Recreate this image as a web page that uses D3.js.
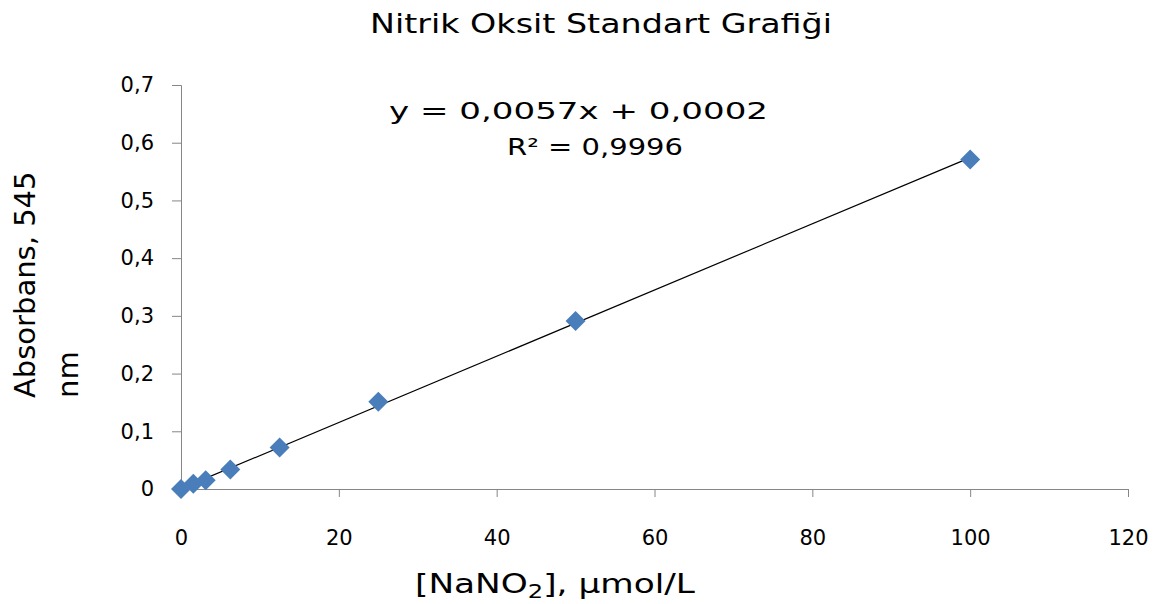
<!DOCTYPE html>
<html>
<head>
<meta charset="utf-8">
<script src="https://cdn.jsdelivr.net/npm/d3@7"></script>
<style>
  body { margin: 0; background: #fff; }
  text { font-family: "DejaVu Sans", Verdana, sans-serif; fill: #000; }
</style>
</head>
<body>
<div id="chart"></div>
<script>
// standard curve data: NaNO2 concentration (umol/L) vs absorbance at 545 nm
var concentrations = [0, 1.5625, 3.125, 6.25, 12.5, 25, 50, 100];
var absorbances = [0, 0.009, 0.015, 0.034, 0.072, 0.151, 0.291, 0.571];

var xTicks = [0, 20, 40, 60, 80, 100, 120];
var yTicks = [0, 0.1, 0.2, 0.3, 0.4, 0.5, 0.6, 0.7];

var titleText = "Nitrik Oksit Standart Grafiği";
var equationLines = ["y = 0,0057x + 0,0002", "R² = 0,9996"];
var yLabelLines = ["Absorbans, 545", "nm"];

// set the dimensions and margins of the graph
var W = 1154, H = 604;
var margin = {top: 85, right: 26, bottom: 115, left: 181},
    width = W - margin.left - margin.right,
    height = H - margin.top - margin.bottom;

var svg = d3.select("#chart")
  .append("svg")
    .attr("width", W)
    .attr("height", H);

var g = svg.append("g")
    .attr("transform", "translate(" + margin.left + "," + margin.top + ")");

var x = d3.scaleLinear().domain([0, 120]).range([0, width]);
var y = d3.scaleLinear().domain([0, 0.7]).range([height, 0]);

var comma = function(v) { return String(+v.toFixed(1)).replace(".", ","); };

// X axis
var xAxis = g.append("g")
  .attr("transform", "translate(0," + height + ")")
  .call(d3.axisBottom(x).tickValues(xTicks).tickSize(8).tickPadding(33).tickFormat(d3.format("d")));

// Y axis
var yAxis = g.append("g")
  .call(d3.axisLeft(y).tickValues(yTicks).tickSize(9).tickPadding(18).tickFormat(comma));

[xAxis, yAxis].forEach(function(a) {
  a.select(".domain").attr("stroke", "#868686");
  a.selectAll(".tick line").attr("stroke", "#868686");
  a.selectAll(".tick text")
    .attr("fill", "#000")
    .style("font-family", "'DejaVu Sans', Verdana, sans-serif")
    .style("font-size", "21px");
});

// linear trendline (least squares)
var mx = d3.mean(concentrations),
    my = d3.mean(absorbances);
var sxy = d3.sum(concentrations, function(c, i) { return (c - mx) * (absorbances[i] - my); });
var sxx = d3.sum(concentrations, function(c) { return (c - mx) * (c - mx); });
var slope = sxy / sxx, intercept = my - slope * mx;
var xExt = d3.extent(concentrations);

g.append("line")
  .attr("x1", x(xExt[0])).attr("y1", y(slope * xExt[0] + intercept))
  .attr("x2", x(xExt[1])).attr("y2", y(slope * xExt[1] + intercept))
  .attr("stroke", "#000")
  .attr("stroke-width", 1.2);

// points as diamonds
var diamond = d3.symbol().type(d3.symbolSquare).size(200);
g.selectAll("path.pt")
  .data(concentrations)
  .enter()
  .append("path")
    .attr("class", "pt")
    .attr("d", diamond)
    .attr("transform", function(d, i) {
      return "translate(" + x(d) + "," + y(absorbances[i]) + ") rotate(45)";
    })
    .attr("fill", "#4A7EBB");

// title
svg.append("text")
  .attr("x", 370).attr("y", 33)
  .attr("textLength", 462).attr("lengthAdjust", "spacingAndGlyphs")
  .style("font-size", "27px")
  .text(titleText);

// regression equation
var eqPos = [{x: 389, y: 119, w: 379}, {x: 507, y: 155, w: 176}];
svg.selectAll("text.eq")
  .data(equationLines)
  .enter()
  .append("text")
    .attr("class", "eq")
    .attr("x", function(d, i) { return eqPos[i].x; })
    .attr("y", function(d, i) { return eqPos[i].y; })
    .attr("textLength", function(d, i) { return eqPos[i].w; })
    .attr("lengthAdjust", "spacingAndGlyphs")
    .style("font-size", "23px")
    .text(function(d) { return d; });

// x axis label with subscript
var xl = svg.append("text")
  .attr("x", 415).attr("y", 593)
  .attr("textLength", 280).attr("lengthAdjust", "spacingAndGlyphs")
  .style("font-size", "27px");
xl.append("tspan").text("[NaNO");
xl.append("tspan").attr("dy", 5).style("font-size", "19px").text("2");
xl.append("tspan").attr("dy", -5).text("], μmol/L");

// y axis label, two lines
svg.selectAll("text.ylab")
  .data(yLabelLines)
  .enter()
  .append("text")
    .attr("class", "ylab")
    .attr("transform", function(d, i) { return "translate(" + (35 + i * 43) + ",398) rotate(-90)"; })
    .style("font-size", "29px")
    .text(function(d) { return d; });
</script>
</body>
</html>
